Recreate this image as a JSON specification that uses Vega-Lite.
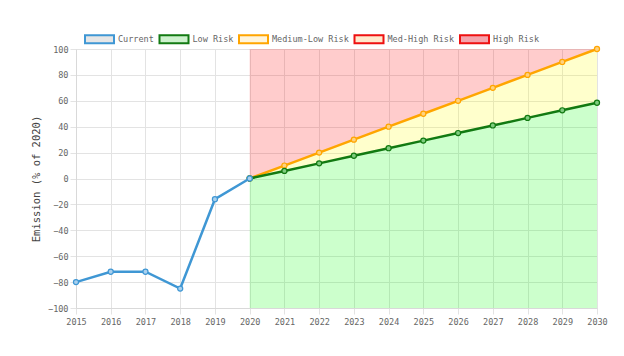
{
  "$schema": "https://vega.github.io/schema/vega-lite/v6.json",
  "width": 521,
  "height": 259,
  "autosize": {"type": "none"},
  "padding": {"left": 76, "top": 49, "right": 27, "bottom": 48},
  "background": "white",
  "config": {
    "view": {"stroke": null},
    "font": "DejaVu Sans Mono",
    "axis": {
      "labelFont": "DejaVu Sans Mono",
      "labelFontSize": 8.5,
      "labelColor": "#666666",
      "gridColor": "#e3e3e3",
      "domainColor": "#d9d9d9",
      "tickColor": "#e3e3e3",
      "tickSize": 6,
      "titleFont": "DejaVu Sans Mono",
      "titleFontWeight": "normal",
      "titleColor": "#444444",
      "titleFontSize": 10.5
    },
    "legend": {
      "labelFont": "DejaVu Sans Mono",
      "labelFontSize": 8.5,
      "labelColor": "#666666"
    }
  },
  "datasets": {
    "lines": [
      {"series": "Current", "year": 2015, "value": -80},
      {"series": "Current", "year": 2016, "value": -72},
      {"series": "Current", "year": 2017, "value": -72},
      {"series": "Current", "year": 2018, "value": -85},
      {"series": "Current", "year": 2019, "value": -16},
      {"series": "Current", "year": 2020, "value": 0},
      {"series": "Medium-Low Risk", "year": 2020, "value": 0},
      {"series": "Medium-Low Risk", "year": 2021, "value": 10},
      {"series": "Medium-Low Risk", "year": 2022, "value": 20},
      {"series": "Medium-Low Risk", "year": 2023, "value": 30},
      {"series": "Medium-Low Risk", "year": 2024, "value": 40},
      {"series": "Medium-Low Risk", "year": 2025, "value": 50},
      {"series": "Medium-Low Risk", "year": 2026, "value": 60},
      {"series": "Medium-Low Risk", "year": 2027, "value": 70},
      {"series": "Medium-Low Risk", "year": 2028, "value": 80},
      {"series": "Medium-Low Risk", "year": 2029, "value": 90},
      {"series": "Medium-Low Risk", "year": 2030, "value": 100},
      {"series": "Low Risk", "year": 2020, "value": 0},
      {"series": "Low Risk", "year": 2021, "value": 5.85},
      {"series": "Low Risk", "year": 2022, "value": 11.7},
      {"series": "Low Risk", "year": 2023, "value": 17.55},
      {"series": "Low Risk", "year": 2024, "value": 23.4},
      {"series": "Low Risk", "year": 2025, "value": 29.25},
      {"series": "Low Risk", "year": 2026, "value": 35.1},
      {"series": "Low Risk", "year": 2027, "value": 40.95},
      {"series": "Low Risk", "year": 2028, "value": 46.8},
      {"series": "Low Risk", "year": 2029, "value": 52.65},
      {"series": "Low Risk", "year": 2030, "value": 58.5}
    ],
    "bands": [
      {"year": 2020, "low": 0, "med": 0, "bottom": -100, "top": 100},
      {"year": 2021, "low": 5.85, "med": 10, "bottom": -100, "top": 100},
      {"year": 2022, "low": 11.7, "med": 20, "bottom": -100, "top": 100},
      {"year": 2023, "low": 17.55, "med": 30, "bottom": -100, "top": 100},
      {"year": 2024, "low": 23.4, "med": 40, "bottom": -100, "top": 100},
      {"year": 2025, "low": 29.25, "med": 50, "bottom": -100, "top": 100},
      {"year": 2026, "low": 35.1, "med": 60, "bottom": -100, "top": 100},
      {"year": 2027, "low": 40.95, "med": 70, "bottom": -100, "top": 100},
      {"year": 2028, "low": 46.8, "med": 80, "bottom": -100, "top": 100},
      {"year": 2029, "low": 52.65, "med": 90, "bottom": -100, "top": 100},
      {"year": 2030, "low": 58.5, "med": 100, "bottom": -100, "top": 100}
    ],
    "legendItems": [
      {"series": "Current", "year": 2100, "value": 0},
      {"series": "Low Risk", "year": 2100, "value": 0},
      {"series": "Medium-Low Risk", "year": 2100, "value": 0},
      {"series": "Med-High Risk", "year": 2100, "value": 0},
      {"series": "High Risk", "year": 2100, "value": 0}
    ]
  },
  "encoding": {
    "x": {
      "field": "year",
      "type": "quantitative",
      "scale": {"domain": [2015, 2030], "nice": false, "zero": false},
      "axis": {
        "title": null,
        "values": [2015, 2016, 2017, 2018, 2019, 2020, 2021, 2022, 2023, 2024, 2025, 2026, 2027, 2028, 2029, 2030],
        "format": "d",
        "labelOverlap": false,
        "labelFlush": false,
        "labelPadding": 3
      }
    }
  },
  "layer": [
    {
      "data": {"name": "bands"},
      "mark": {"type": "area", "fill": "#00ff00", "fillOpacity": 0.2},
      "encoding": {
        "y": {
          "field": "low",
          "type": "quantitative",
          "scale": {"domain": [-100, 100], "nice": false},
          "axis": {"title": "Emission (% of 2020)", "tickCount": 10, "labelOverlap": false, "labelFlush": false, "labelBound": false, "labelSeparation": 0, "labelPadding": 2, "titlePadding": 6}
        },
        "y2": {"field": "bottom"}
      }
    },
    {
      "data": {"name": "bands"},
      "mark": {"type": "area", "fill": "#ffff00", "fillOpacity": 0.2},
      "encoding": {
        "y": {"field": "low", "type": "quantitative"},
        "y2": {"field": "med"}
      }
    },
    {
      "data": {"name": "bands"},
      "mark": {"type": "area", "fill": "#ff0000", "fillOpacity": 0.2},
      "encoding": {
        "y": {"field": "med", "type": "quantitative"},
        "y2": {"field": "top"}
      }
    },
    {
      "data": {"name": "lines"},
      "transform": [{"filter": "datum.series === 'Medium-Low Risk'"}],
      "mark": {"type": "line", "stroke": "#ffa500", "strokeWidth": 2.5, "point": {"filled": true, "fill": "#ffd27f", "stroke": "#ffa500", "strokeWidth": 1.2, "size": 26}},
      "encoding": {"y": {"field": "value", "type": "quantitative"}}
    },
    {
      "data": {"name": "lines"},
      "transform": [{"filter": "datum.series === 'Low Risk'"}],
      "mark": {"type": "line", "stroke": "#127a12", "strokeWidth": 2.5, "point": {"filled": true, "fill": "#7fcc7f", "stroke": "#127a12", "strokeWidth": 1.2, "size": 26}},
      "encoding": {"y": {"field": "value", "type": "quantitative"}}
    },
    {
      "data": {"name": "lines"},
      "transform": [{"filter": "datum.series === 'Current'"}],
      "mark": {"type": "line", "stroke": "#3f97d4", "strokeWidth": 2.5, "point": {"filled": true, "fill": "#a9d0ee", "stroke": "#3f97d4", "strokeWidth": 1.2, "size": 26}},
      "encoding": {"y": {"field": "value", "type": "quantitative"}}
    },
    {
      "data": {"name": "legendItems"},
      "mark": {"type": "point", "filled": true, "clip": true},
      "encoding": {
        "y": {"field": "value", "type": "quantitative"},
        "fill": {
          "field": "series",
          "type": "nominal",
          "scale": {
            "domain": ["Current", "Low Risk", "Medium-Low Risk", "Med-High Risk", "High Risk"],
            "range": ["#e6e6e6", "#cdf2cd", "#fff5dc", "#ffe9cc", "#f4a3ab"]
          },
          "legend": {
            "title": null,
            "orient": "none",
            "direction": "horizontal",
            "legendX": 8,
            "legendY": -25.5,
            "symbolType": "M-1,-0.28H1V0.28H-1Z",
            "symbolSize": 841,
            "symbolStrokeWidth": 2,
            "symbolOpacity": 1,
            "labelOffset": 3,
            "columnPadding": 1.5
          }
        },
        "stroke": {
          "field": "series",
          "type": "nominal",
          "scale": {
            "domain": ["Current", "Low Risk", "Medium-Low Risk", "Med-High Risk", "High Risk"],
            "range": ["#3f97d4", "#127a12", "#ffa500", "#ee1111", "#ee1111"]
          },
          "legend": {
            "title": null,
            "orient": "none",
            "direction": "horizontal",
            "legendX": 8,
            "legendY": -25.5,
            "symbolType": "M-1,-0.28H1V0.28H-1Z",
            "symbolSize": 841,
            "symbolStrokeWidth": 2,
            "symbolOpacity": 1,
            "labelOffset": 3,
            "columnPadding": 1.5
          }
        }
      }
    }
  ]
}
